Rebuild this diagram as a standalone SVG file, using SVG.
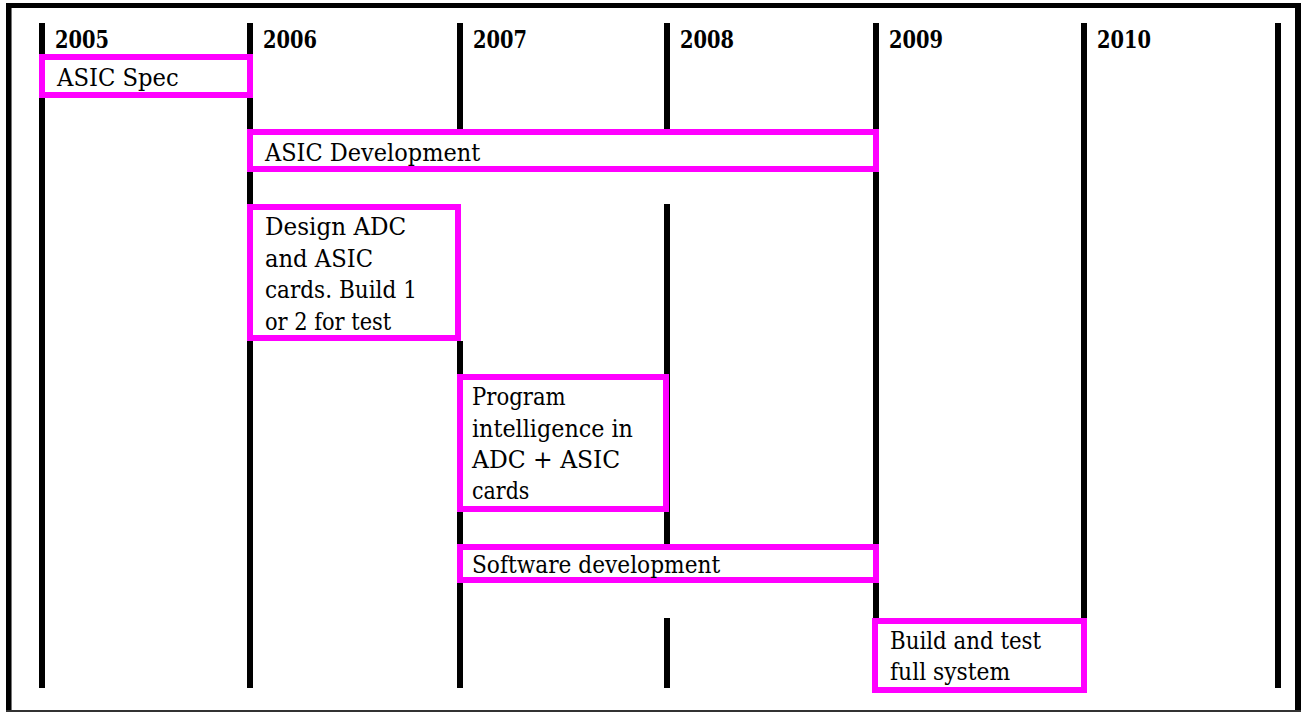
<svg xmlns="http://www.w3.org/2000/svg" width="1302" height="713" viewBox="0 0 1302 713">
<style>
.ln{fill:#000}
.box{fill:#fff;stroke:#ff00ff;stroke-width:6}
text{font-family:'DejaVu Serif','Liberation Serif',serif;font-size:24px;fill:#000}
.yr{font-weight:bold;font-size:23.5px}
</style>
<rect x="0" y="0" width="1302" height="713" fill="#fff"/>
<g id="frame">
<rect x="6" y="3" width="1295" height="5" fill="#000"/>
<rect x="6" y="3" width="5" height="709" fill="#000"/>
<rect x="11" y="8" width="1" height="703" fill="#777"/>
<rect x="1295" y="3" width="6" height="709" fill="#000"/>
<rect x="6" y="710" width="1295" height="2" fill="#333"/>
</g>
<g id="connectors">
<rect class="ln" x="39" y="23" width="6" height="665"/>
<rect class="ln" x="247" y="23" width="6" height="665"/>
<rect class="ln" x="457" y="23" width="6" height="107"/>
<rect class="ln" x="457" y="341" width="6" height="347"/>
<rect class="ln" x="664" y="23" width="6" height="107"/>
<rect class="ln" x="664" y="204" width="6" height="341"/>
<rect class="ln" x="664" y="618" width="6" height="70"/>
<rect class="ln" x="873" y="23" width="6" height="107"/>
<rect class="ln" x="873" y="172" width="6" height="373"/>
<rect class="ln" x="873" y="583" width="6" height="37"/>
<rect class="ln" x="1081" y="23" width="6" height="597"/>
<rect class="ln" x="1275" y="23" width="6" height="665"/>
</g>
<g id="years">
<text class="yr" x="55" y="48" textLength="54" lengthAdjust="spacingAndGlyphs">2005</text>
<text class="yr" x="263" y="48" textLength="54" lengthAdjust="spacingAndGlyphs">2006</text>
<text class="yr" x="473" y="48" textLength="54" lengthAdjust="spacingAndGlyphs">2007</text>
<text class="yr" x="680" y="48" textLength="54" lengthAdjust="spacingAndGlyphs">2008</text>
<text class="yr" x="889" y="48" textLength="54" lengthAdjust="spacingAndGlyphs">2009</text>
<text class="yr" x="1097" y="48" textLength="54" lengthAdjust="spacingAndGlyphs">2010</text>
</g>
<g id="asic-spec">
<rect class="box" x="42" y="57" width="208" height="38"/>
<text x="57" y="86" textLength="121.7" lengthAdjust="spacingAndGlyphs">ASIC Spec</text>
</g>
<g id="asic-development">
<rect class="box" x="250" y="132" width="626" height="37"/>
<text x="265" y="161" textLength="215.3" lengthAdjust="spacingAndGlyphs">ASIC Development</text>
</g>
<g id="design-adc">
<rect class="box" x="250" y="207" width="208" height="131"/>
<text x="265" y="235" textLength="141.3" lengthAdjust="spacingAndGlyphs">Design ADC</text>
<text x="265" y="267" textLength="108" lengthAdjust="spacingAndGlyphs">and ASIC</text>
<text x="265" y="298" textLength="151.9" lengthAdjust="spacingAndGlyphs">cards. Build 1</text>
<text x="265" y="330" textLength="126.2" lengthAdjust="spacingAndGlyphs">or 2 for test</text>
</g>
<g id="program-intelligence">
<rect class="box" x="460" y="377" width="206" height="132"/>
<text x="472" y="405" textLength="93.7" lengthAdjust="spacingAndGlyphs">Program</text>
<text x="472" y="437" textLength="160.9" lengthAdjust="spacingAndGlyphs">intelligence in</text>
<text x="472" y="468" textLength="148.3" lengthAdjust="spacingAndGlyphs">ADC + ASIC</text>
<text x="472" y="499" textLength="57.4" lengthAdjust="spacingAndGlyphs">cards</text>
</g>
<g id="software-development">
<rect class="box" x="460" y="547" width="416" height="33"/>
<text x="472" y="573" textLength="248.2" lengthAdjust="spacingAndGlyphs">Software development</text>
</g>
<g id="build-test">
<rect class="box" x="875" y="621" width="209" height="69"/>
<text x="890" y="649" textLength="151.1" lengthAdjust="spacingAndGlyphs">Build and test</text>
<text x="890" y="680" textLength="120.2" lengthAdjust="spacingAndGlyphs">full system</text>
</g>
</svg>
